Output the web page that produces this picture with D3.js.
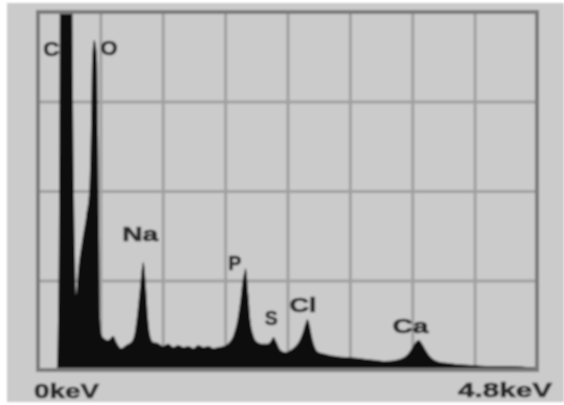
<!DOCTYPE html>
<html>
<head>
<meta charset="utf-8">
<script src="https://cdn.jsdelivr.net/npm/d3@7"></script>
<style>
  body { margin: 0; background: #fff; }
  svg { display: block; }
</style>
</head>
<body>
<svg id="chart" width="564" height="405"></svg>
<script>
// EDS spectrum: energy (keV) and relative counts (0..100 = full frame height)
let energy = [0.00, 0.18, 0.20, 0.212, 0.27, 0.328, 0.337, 0.347, 0.357, 0.366,
    0.386, 0.424, 0.463, 0.492, 0.511, 0.520, 0.540, 0.559, 0.569, 0.578, 0.588,
    0.598, 0.617, 0.636, 0.675, 0.723, 0.761, 0.800, 0.848, 0.896, 0.935,
    0.964, 0.983, 1.003, 1.012, 1.022, 1.041, 1.060, 1.080, 1.108, 1.157,
    1.205, 1.253, 1.301, 1.349, 1.398, 1.446, 1.494, 1.542, 1.590, 1.639,
    1.687, 1.735, 1.783, 1.831, 1.880, 1.918, 1.947, 1.966, 1.986, 1.995,
    2.005, 2.024, 2.043, 2.072, 2.111, 2.159, 2.207, 2.246, 2.265, 2.294,
    2.333, 2.381, 2.429, 2.477, 2.525, 2.554, 2.574, 2.593, 2.612, 2.632,
    2.660, 2.699, 2.766, 2.863, 2.959, 3.056, 3.152, 3.248, 3.345, 3.441,
    3.509, 3.557, 3.596, 3.634, 3.663, 3.692, 3.730, 3.779, 3.836, 3.923,
    4.019, 4.164, 4.357, 4.550, 4.742, 4.800];
let counts = [0, 0, 33.5, 109, 120, 109, 75.4, 47.5, 30.7, 20.9,
    27.9, 36.0, 43.0, 50.0, 70.0, 86.6, 92.2, 90.0, 86.0, 65.0, 35.0,
    14.0, 9.5, 8.9, 8.4, 9.5, 7.5, 6.1, 7.0, 7.8, 11.2,
    18.2, 23.7, 29.1, 30.2, 29.1, 22.3, 14.0, 9.5, 7.8, 7.5,
    6.7, 7.3, 6.4, 7.0, 6.4, 6.7, 6.1, 7.0, 6.4, 6.7,
    6.1, 6.4, 6.7, 7.5, 9.8, 14.0, 19.6, 24.6, 27.4, 28.5,
    27.4, 20.9, 14.0, 9.8, 7.8, 7.3, 7.3, 8.4, 9.2, 7.8,
    5.6, 5.0, 5.6, 6.7, 8.9, 11.2, 13.1, 14.2, 12.8, 9.8,
    6.7, 5.0, 4.5, 3.9, 3.6, 3.4, 3.1, 2.8, 2.5, 2.8,
    3.4, 4.5, 6.1, 7.8, 8.4, 7.5, 5.6, 3.6, 2.5, 2.0,
    1.7, 1.4, 1.1, 1.1, 0.8, 0.8];

// peak labels: element, energy at label's left edge, counts at label's baseline, label width
let elements = ['C', 'O', 'Na', 'P', 'S', 'Cl', 'Ca'];
let labelE = [0.05, 0.60, 0.81, 1.83, 2.18, 2.42, 3.41];
let labelC = [87.7, 88.0, 36.0, 27.9, 12.6, 16.2, 10.3];
let labelW = [16, 17, 36, 13, 13, 27, 36];

let xEnds = ['0keV', '4.8keV'];
let xDomain = [0, 4.8];
let gridE = [0.6, 1.2, 1.8, 2.4, 3.0, 3.6, 4.2];
let gridC = [25, 50, 75];

let svg = d3.select('#chart');
let m = {left: 38, right: 537, top: 12, bottom: 370};

let x = d3.scaleLinear().domain(xDomain).range([m.left, m.right]);
let y = d3.scaleLinear().domain([0, 100]).range([m.bottom, m.top]);

// slight blur so it reads like the scanned original
let defs = svg.append('defs');
defs.append('filter').attr('id', 'scan')
    .append('feGaussianBlur').attr('stdDeviation', 0.9);
defs.append('clipPath').attr('id', 'plotClip')
    .append('rect')
    .attr('x', m.left).attr('y', m.top - 2)
    .attr('width', m.right - m.left).attr('height', m.bottom - m.top + 2);

let g = svg.append('g').attr('filter', 'url(#scan)');

// paper
g.append('rect')
    .attr('x', 7).attr('y', 3)
    .attr('width', 557).attr('height', 399)
    .attr('fill', '#cbcbcb');

// grid
g.append('g')
    .attr('transform', `translate(0,${m.bottom})`)
    .call(d3.axisBottom(x).tickValues(gridE).tickSize(-(m.bottom - m.top)).tickFormat(''))
    .call(a => a.select('.domain').remove())
    .call(a => a.selectAll('line').attr('stroke', '#a0a0a0').attr('stroke-width', 3));
g.append('g')
    .attr('transform', `translate(${m.left},0)`)
    .call(d3.axisLeft(y).tickValues(gridC).tickSize(-(m.right - m.left)).tickFormat(''))
    .call(a => a.select('.domain').remove())
    .call(a => a.selectAll('line').attr('stroke', '#a0a0a0').attr('stroke-width', 3));

// spectrum
let spectrum = d3.zip(energy, counts);
let area = d3.area()
    .x(d => x(d[0]))
    .y0(y(0))
    .y1(d => y(d[1]))
    .curve(d3.curveMonotoneX);
g.append('path')
    .datum(spectrum)
    .attr('clip-path', 'url(#plotClip)')
    .attr('d', area)
    .attr('fill', '#080808');

// frame
g.append('rect')
    .attr('x', m.left).attr('y', m.top)
    .attr('width', m.right - m.left).attr('height', m.bottom - m.top)
    .attr('fill', 'none')
    .attr('stroke', '#7a7a7a')
    .attr('stroke-width', 4);

let label = sel => sel
    .attr('lengthAdjust', 'spacingAndGlyphs')
    .attr('font-family', 'Liberation Sans, Arial, sans-serif')
    .attr('font-weight', 'bold')
    .attr('fill', '#2b2b2b')
    .attr('stroke', '#2b2b2b')
    .attr('stroke-width', 0.7);

// element labels
g.append('g').selectAll('text')
    .data(elements)
    .join('text')
    .attr('x', (d, i) => x(labelE[i]))
    .attr('y', (d, i) => y(labelC[i]))
    .attr('textLength', (d, i) => labelW[i])
    .attr('font-size', 20)
    .call(label)
    .text(d => d);

// energy range labels at the corners
g.append('text')
    .attr('x', 34).attr('y', 398)
    .attr('textLength', 65)
    .attr('font-size', 21)
    .call(label)
    .text(xEnds[0]);
g.append('text')
    .attr('x', 458).attr('y', 397)
    .attr('textLength', 94)
    .attr('font-size', 21)
    .call(label)
    .text(xEnds[1]);
</script>
</body>
</html>
